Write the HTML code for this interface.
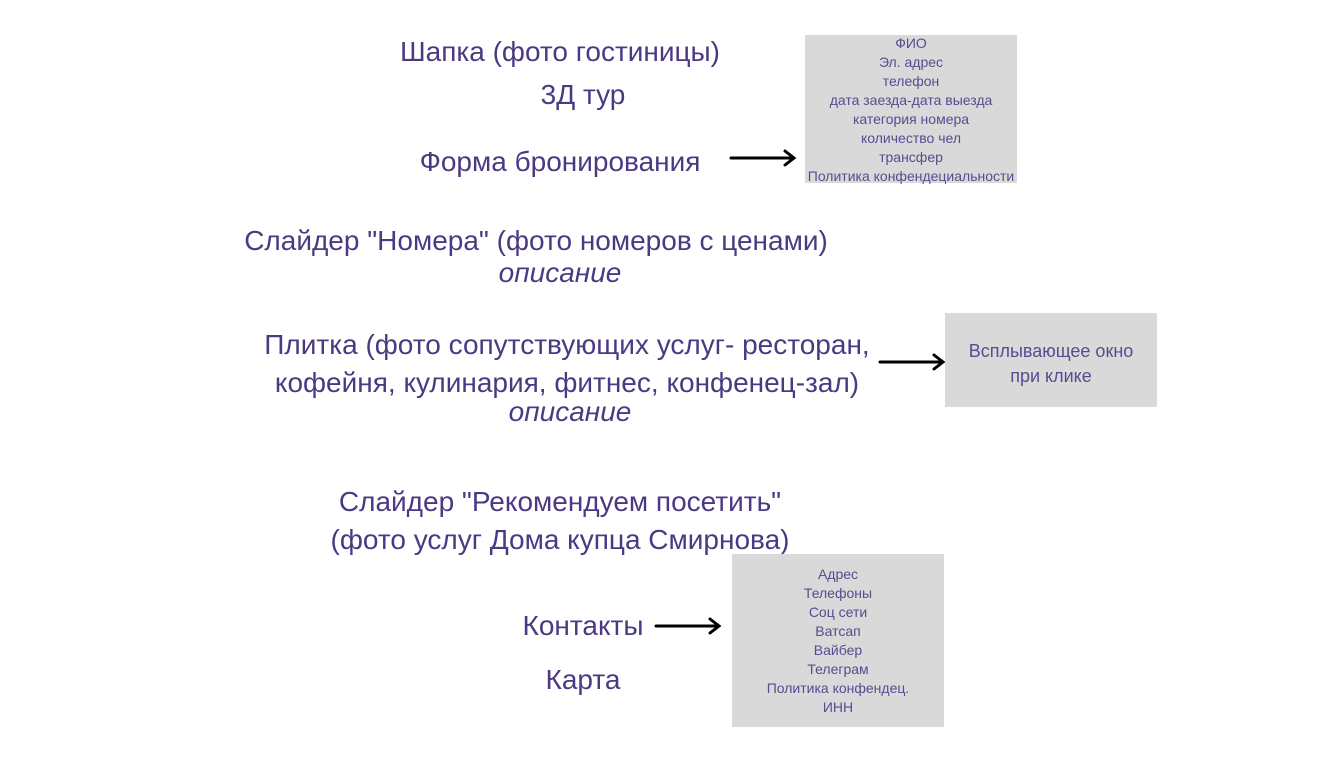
<!DOCTYPE html>
<html><head><meta charset="utf-8"><style>
body{margin:0;width:1340px;height:769px;background:#fff;position:relative;overflow:hidden;font-family:"Liberation Sans","DejaVu Sans",sans-serif;color:#4b3983}
.t{position:absolute;white-space:nowrap;transform:translate(-50%,-50%);font-size:28px;line-height:1;margin-top:2px}
.i{font-style:italic}
.box{position:absolute;background:#d9d9d9;text-align:center;color:#5a4a90}
.s{font-size:14px;line-height:19px}
svg{position:absolute;left:0;top:0}
</style></head><body>
<div class="t" style="left:560px;top:50px">Шапка (фото гостиницы)</div>
<div class="t" style="left:583px;top:93px">3Д тур</div>
<div class="t" style="left:560px;top:160px">Форма бронирования</div>
<div class="t" style="left:536px;top:239px">Слайдер "Номера" (фото номеров с ценами)</div>
<div class="t i" style="left:560px;top:271px">описание</div>
<div class="t" style="left:567px;top:343px">Плитка (фото сопутствующих услуг- ресторан,</div>
<div class="t" style="left:567px;top:381px">кофейня, кулинария, фитнес, конфенец-зал)</div>
<div class="t i" style="left:570px;top:410px">описание</div>
<div class="t" style="left:560px;top:500px">Слайдер "Рекомендуем посетить"</div>
<div class="t" style="left:560px;top:538px">(фото услуг Дома купца Смирнова)</div>
<div class="t" style="left:583px;top:624px">Контакты</div>
<div class="t" style="left:583px;top:678px">Карта</div>

<div class="box s" style="left:805px;top:35px;width:212px;height:148px"><div style="margin-top:-1px">ФИО<br>Эл. адрес<br>телефон<br>дата заезда-дата выезда<br>категория номера<br>количество чел<br>трансфер<br>Политика конфендециальности</div></div>
<div class="box" style="left:945px;top:313px;width:212px;height:94px;font-size:18px;line-height:25px"><div style="margin-top:26px">Всплывающее окно<br>при клике</div></div>
<div class="box s" style="left:732px;top:554px;width:212px;height:173px"><div style="margin-top:11px">Адрес<br>Телефоны<br>Соц сети<br>Ватсап<br>Вайбер<br>Телеграм<br>Политика конфендец.<br>ИНН</div></div>

<svg width="1340" height="769">
<g stroke="#000" stroke-width="3" fill="none" stroke-linecap="round">
<line x1="731" y1="158" x2="793" y2="158"/><polyline points="785,151 794,158 785,165"/>
<line x1="880" y1="362" x2="942" y2="362"/><polyline points="934,355 943,362 934,369"/>
<line x1="656" y1="626" x2="718" y2="626"/><polyline points="710,619 719,626 710,633"/>
</g></svg>
</body></html>
